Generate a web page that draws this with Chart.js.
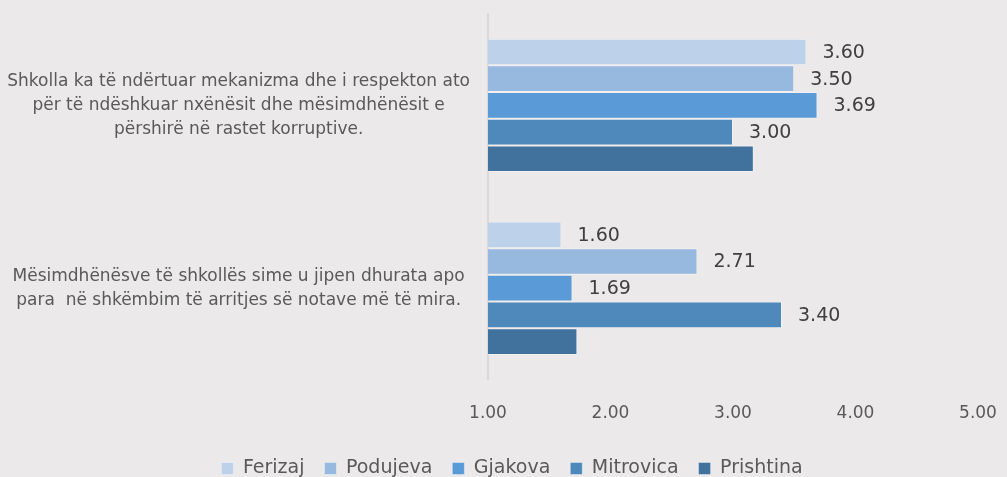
<!DOCTYPE html>
<html>
<head>
<meta charset="utf-8">
<script src="https://cdn.jsdelivr.net/npm/chart.js@4.4.1/dist/chart.umd.min.js"></script>
<style>
  html, body { margin: 0; padding: 0; background: #ebe9ea; }
  #wrap { width: 1007px; height: 477px; }
</style>
</head>
<body>
<div id="wrap"><canvas id="chart"></canvas></div>
<script>
const categories = [
  ["Shkolla ka të ndërtuar mekanizma dhe i respekton ato", "për të ndëshkuar nxënësit dhe mësimdhënësit e", "përshirë në rastet korruptive."],
  ["Mësimdhënësve të shkollës sime u jipen dhurata apo", "para  në shkëmbim të arritjes së notave më të mira."]
];
const seriesNames = ["Ferizaj", "Podujeva", "Gjakova", "Mitrovica", "Prishtina"];
const ferizaj = [3.60, 1.60];
const podujeva = [3.50, 2.71];
const gjakova = [3.69, 1.69];
const mitrovica = [3.00, 3.40];
const prishtina = [3.17, 1.73];
const showValues = [true, true, true, true, false];
const xTicks = [1, 2, 3, 4, 5];

const colors = ["#bdd1ea", "#97b9e0", "#5a9ad6", "#4f89bc", "#41729e"];
const seriesValues = [ferizaj, podujeva, gjakova, mitrovica, prishtina];

const valueLabels = {
  id: "valueLabels",
  afterDatasetsDraw(chart) {
    const ctx = chart.ctx;
    ctx.save();
    ctx.font = "19px 'DejaVu Sans', sans-serif";
    ctx.fillStyle = "#404040";
    ctx.textAlign = "left";
    ctx.textBaseline = "middle";
    chart.data.datasets.forEach((ds, i) => {
      if (!showValues[i]) return;
      chart.getDatasetMeta(i).data.forEach((bar, j) => {
        ctx.fillText(ds.data[j].toFixed(2), bar.x + 16, bar.y + 1);
      });
    });
    ctx.restore();
  }
};

// the legend in the original sits a bit right of the canvas centre
const legendShift = {
  id: "legendShift",
  afterLayout(chart) {
    if (chart.legend) {
      chart.legend.left += 23;
      chart.legend.right += 23;
    }
  }
};

new Chart(document.getElementById("chart"), {
  type: "bar",
  data: {
    labels: categories,
    datasets: seriesNames.map((name, i) => ({
      label: name,
      data: seriesValues[i],
      backgroundColor: colors[i],
      borderColor: "rgba(255,255,255,0.35)",
      borderWidth: 1,
      base: 1,
      categoryPercentage: 0.73,
      barPercentage: 1
    }))
  },
  options: {
    indexAxis: "y",
    responsive: true,
    maintainAspectRatio: false,
    animation: false,
    layout: { padding: { top: 14, right: 29, bottom: -11, left: 0 } },
    scales: {
      x: {
        min: 1,
        max: 5,
        afterBuildTicks: (scale) => { scale.ticks = xTicks.map((v) => ({ value: v })); },
        afterFit: (scale) => { scale.paddingRight = 0; scale.paddingLeft = 0; scale.height -= 9; },
        grid: { display: false, drawTicks: false },
        border: { display: false },
        ticks: {
          color: "#595959",
          font: { family: "'DejaVu Sans', sans-serif", size: 17 },
          padding: 24,
          callback: (v) => Number(v).toFixed(2)
        }
      },
      y: {
        grid: { display: false, drawTicks: false },
        border: { display: true, color: "#d9d9d9", width: 2 },
        afterFit: (scale) => { scale.width = 488; scale.paddingTop = 0; scale.paddingBottom = 0; },
        ticks: {
          color: "#595959",
          crossAlign: "center",
          padding: 18,
          font: { family: "'DejaVu Sans', sans-serif", size: 17, lineHeight: 1.41 }
        }
      }
    },
    plugins: {
      legend: {
        position: "bottom",
        labels: {
          color: "#595959",
          boxWidth: 12,
          boxHeight: 12,
          padding: 20,
          font: { family: "'DejaVu Sans', sans-serif", size: 19 }
        }
      },
      tooltip: { enabled: false }
    }
  },
  plugins: [valueLabels, legendShift]
});
</script>
</body>
</html>
